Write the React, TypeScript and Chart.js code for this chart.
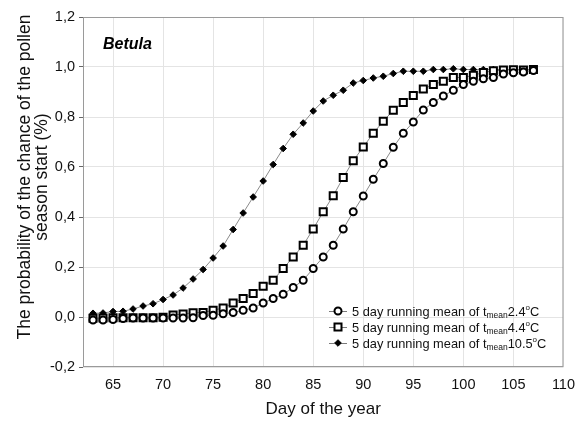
import React, { useEffect, useRef } from 'react';
import { Chart, registerables } from 'chart.js';

Chart.register(...registerables);

const days = [63, 64, 65, 66, 67, 68, 69, 70, 71, 72, 73, 74, 75, 76, 77, 78, 79, 80, 81, 82, 83, 84, 85, 86, 87, 88, 89, 90, 91, 92, 93, 94, 95, 96, 97, 98, 99, 100, 101, 102, 103, 104, 105, 106, 107];

const mean24 = [-0.012, -0.012, -0.01, -0.006, -0.004, -0.004, -0.004, -0.004, -0.004, -0.004, -0.003, 0.006, 0.007, 0.013, 0.018, 0.027, 0.036, 0.056, 0.074, 0.091, 0.118, 0.147, 0.194, 0.24, 0.287, 0.352, 0.421, 0.484, 0.551, 0.614, 0.679, 0.735, 0.78, 0.828, 0.858, 0.884, 0.907, 0.93, 0.943, 0.953, 0.958, 0.972, 0.977, 0.98, 0.986];

const mean44 = [-0.005, -0.004, -0.003, -0.003, -0.003, -0.003, -0.003, -0.001, 0.008, 0.012, 0.017, 0.018, 0.027, 0.036, 0.056, 0.074, 0.094, 0.123, 0.147, 0.194, 0.24, 0.287, 0.352, 0.421, 0.485, 0.558, 0.625, 0.68, 0.735, 0.783, 0.827, 0.858, 0.886, 0.912, 0.93, 0.943, 0.958, 0.958, 0.967, 0.978, 0.985, 0.988, 0.989, 0.988, 0.99];

const mean105 = [0.015, 0.016, 0.022, 0.023, 0.032, 0.044, 0.053, 0.07, 0.088, 0.116, 0.152, 0.19, 0.236, 0.284, 0.35, 0.416, 0.48, 0.544, 0.61, 0.674, 0.731, 0.776, 0.824, 0.864, 0.887, 0.907, 0.936, 0.946, 0.956, 0.963, 0.974, 0.983, 0.983, 0.983, 0.99, 0.99, 0.993, 0.99, 0.99, 0.99, 0.99, 0.99, 0.99, 0.99, 0.99];

const xTicks = [65, 70, 75, 80, 85, 90, 95, 100, 105, 110];
const yTicks = [-0.2, 0, 0.2, 0.4, 0.6, 0.8, 1.0, 1.2];
const seriesTemps = ['2.4', '4.4', '10.5'];
const legendPrefix = '5 day running mean of t';
const legendSub = 'mean';
const legendSup = 'o';
const legendUnit = 'C';
const yTitleLines = ['The probability of the chance of the pollen', 'season start (%)'];
const xTitle = 'Day of the year';
const taxonLabel = 'Betula';

const FONT = '"Liberation Sans", Arial, sans-serif';

function drawMarker(ctx: CanvasRenderingContext2D, style: string, x: number, y: number) {
  ctx.save();
  ctx.strokeStyle = '#000';
  if (style === 'circle') {
    ctx.lineWidth = 2;
    ctx.fillStyle = '#fff';
    ctx.beginPath();
    ctx.arc(x, y, 3.5, 0, Math.PI * 2);
    ctx.fill();
    ctx.stroke();
  } else if (style === 'rect') {
    ctx.lineWidth = 2;
    ctx.fillStyle = '#fff';
    ctx.beginPath();
    ctx.rect(x - 3.5, y - 3.5, 7, 7);
    ctx.fill();
    ctx.stroke();
  } else {
    ctx.lineWidth = 1;
    ctx.fillStyle = '#000';
    ctx.beginPath();
    ctx.moveTo(x, y - 3.3);
    ctx.lineTo(x + 3.3, y);
    ctx.lineTo(x, y + 3.3);
    ctx.lineTo(x - 3.3, y);
    ctx.closePath();
    ctx.fill();
    ctx.stroke();
  }
  ctx.restore();
}

const decorPlugin = {
  id: 'decor',
  beforeDatasetsDraw(chart: any) {
    const { ctx, chartArea } = chart;
    ctx.save();
    ctx.strokeStyle = '#9a9a9a';
    ctx.lineWidth = 1;
    ctx.strokeRect(chartArea.left + 0.5, chartArea.top + 0.5, chartArea.right - chartArea.left - 1, chartArea.bottom - chartArea.top - 1);
    ctx.restore();
  },
  afterDraw(chart: any) {
    const { ctx, chartArea } = chart;
    ctx.save();
    ctx.fillStyle = '#000';
    ctx.font = `italic bold 16px ${FONT}`;
    ctx.textAlign = 'left';
    ctx.textBaseline = 'middle';
    ctx.fillText(taxonLabel, 103, 45);

    ctx.font = `17.5px ${FONT}`;
    ctx.fillStyle = '#111';
    ctx.textAlign = 'center';
    ctx.textBaseline = 'alphabetic';
    const yc = 177;
    yTitleLines.forEach((line, i) => {
      ctx.save();
      ctx.translate(30 + i * 17, yc);
      ctx.rotate(-Math.PI / 2);
      ctx.fillText(line, 0, 0);
      ctx.restore();
    });

    ctx.font = `17px ${FONT}`;
    ctx.textBaseline = 'middle';
    ctx.fillText(xTitle, (chartArea.left + chartArea.right) / 2, 409);

    const styles = ['circle', 'rect', 'rectRot'];
    const rows = [311, 327, 343];
    seriesTemps.forEach((t, i) => {
      const y = rows[i];
      ctx.strokeStyle = '#7a7a7a';
      ctx.lineWidth = 1;
      ctx.beginPath();
      ctx.moveTo(329, y + 0.5);
      ctx.lineTo(347, y + 0.5);
      ctx.stroke();
      drawMarker(ctx, styles[i], 338, y);
      let x = 352;
      ctx.fillStyle = '#111';
      ctx.textAlign = 'left';
      ctx.textBaseline = 'alphabetic';
      ctx.font = `12.8px ${FONT}`;
      ctx.fillText(legendPrefix, x, y + 4.5);
      x += ctx.measureText(legendPrefix).width;
      ctx.font = `8.5px ${FONT}`;
      ctx.fillText(legendSub, x, y + 6.5);
      x += ctx.measureText(legendSub).width;
      ctx.font = `12.8px ${FONT}`;
      ctx.fillText(t, x, y + 4.5);
      x += ctx.measureText(t).width;
      ctx.font = `8px ${FONT}`;
      ctx.fillText(legendSup, x, y - 1);
      x += ctx.measureText(legendSup).width;
      ctx.font = `12.8px ${FONT}`;
      ctx.fillText(legendUnit, x, y + 4.5);
    });
    ctx.restore();
  },
};

export default function App() {
  const canvasRef = useRef<HTMLCanvasElement | null>(null);

  useEffect(() => {
    const canvas = canvasRef.current;
    if (!canvas) return;
    const lineColor = '#8a8a8a';
    const chart = new Chart(canvas, {
      type: 'line',
      data: {
        labels: days,
        datasets: [
          {
            label: '2.4',
            data: days.map((d, i) => ({ x: d, y: mean24[i] })),
            borderColor: lineColor,
            borderWidth: 1,
            pointStyle: 'circle',
            pointRadius: 3.5,
            pointBorderWidth: 2,
            pointBorderColor: '#000',
            pointBackgroundColor: '#fff',
            tension: 0,
          },
          {
            label: '4.4',
            data: days.map((d, i) => ({ x: d, y: mean44[i] })),
            borderColor: lineColor,
            borderWidth: 1,
            pointStyle: 'rect',
            pointRadius: 5,
            pointBorderWidth: 2,
            pointBorderColor: '#000',
            pointBackgroundColor: '#fff',
            tension: 0,
          },
          {
            label: '10.5',
            data: days.map((d, i) => ({ x: d, y: mean105[i] })),
            borderColor: lineColor,
            borderWidth: 1,
            pointStyle: 'rectRot',
            pointRadius: 3.3,
            pointBorderWidth: 1,
            pointBorderColor: '#000',
            pointBackgroundColor: '#000',
            tension: 0,
          },
        ],
      },
      options: {
        animation: false,
        responsive: false,
        devicePixelRatio: 1,
        layout: { padding: { left: 50, top: 17, right: 19, bottom: 0 } },
        plugins: {
          legend: { display: false },
          tooltip: { enabled: false },
        },
        scales: {
          x: {
            type: 'linear',
            min: 62,
            max: 110,
            afterBuildTicks: (scale: any) => {
              scale.ticks = xTicks.map((v) => ({ value: v }));
            },
            afterFit: (scale: any) => {
              scale.height = 54;
            },
            grid: { color: '#e4e4e4', drawTicks: false },
            border: { display: false },
            ticks: {
              padding: 9,
              color: '#111',
              font: { family: FONT, size: 14.5 },
              maxRotation: 0,
            },
          },
          y: {
            type: 'linear',
            min: -0.2,
            max: 1.2,
            afterBuildTicks: (scale: any) => {
              scale.ticks = yTicks.map((v) => ({ value: v }));
            },
            afterFit: (scale: any) => {
              scale.width = 33;
            },
            grid: { color: '#e4e4e4', drawTicks: true, tickLength: 4, tickColor: '#666' },
            border: { display: false },
            ticks: {
              padding: 4,
              color: '#111',
              font: { family: FONT, size: 14.5 },
              callback: (v: any) => Number(v).toFixed(1).replace('.', ','),
            },
          },
        },
      },
      plugins: [decorPlugin],
    } as any);
    return () => chart.destroy();
  }, []);

  return (
    <div style={{ position: 'fixed', left: 0, top: 0, width: 584, height: 421, background: '#fff' }}>
      <canvas ref={canvasRef} width={584} height={421} />
    </div>
  );
}
